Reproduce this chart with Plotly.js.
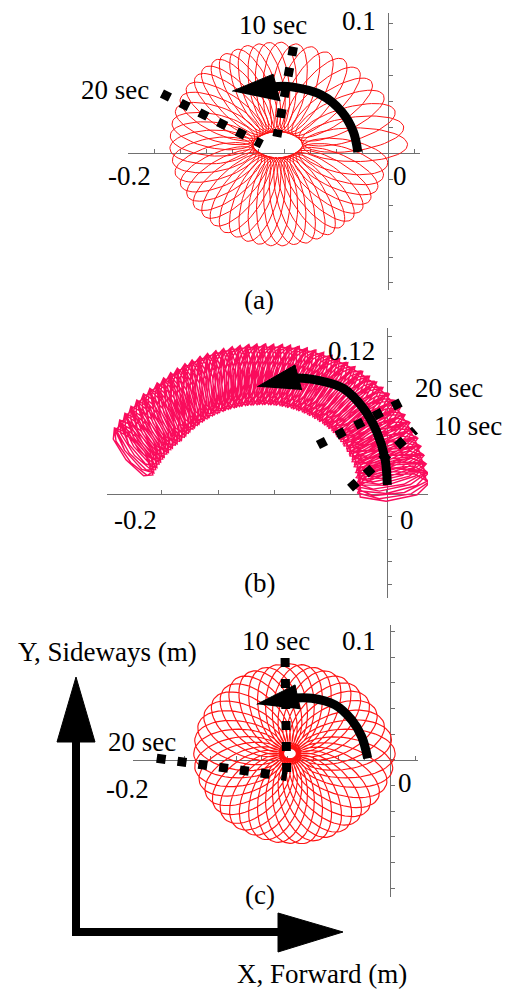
<!DOCTYPE html>
<html><head><meta charset="utf-8">
<script src="https://cdn.plot.ly/plotly-3.0.1.min.js"></script>
<style>html,body{margin:0;padding:0;background:#fff}#chart{width:505px;height:990px}</style>
</head><body><div id="chart"></div>
<script>
// ================= DATA =================
// Panel (a): petal directions (deg, counter-clockwise from +X) and petal reach (m)
const petalAngleA = [0,8,16,25,34,43,52,61,70,79,88,95,101,108,114,121,127,134,140,147,154,161,168,175,182,189,196,203,210,217,224,231,238,245,252,259,266,273,280,287,294,301,308,315,322,329,336,343,350];
const petalReachA = [0.100,0.098,0.094,0.090,0.087,0.085,0.083,0.081,0.080,0.079,0.079,0.079,0.079,0.080,0.080,0.081,0.081,0.082,0.082,0.083,0.083,0.083,0.083,0.083,0.083,0.082,0.082,0.081,0.080,0.080,0.079,0.079,0.079,0.078,0.078,0.078,0.078,0.078,0.078,0.079,0.079,0.080,0.080,0.081,0.082,0.083,0.084,0.085,0.086];
const petalCentreA = [-0.085, 0.0065];
const petalHoleA = [0.019, 0.010];
const petalHalfWidthA = 0.013;

// Panel (b): loop positions along the curved path (deg about arc centre)
const loopAngleB = [7,8.1,9.3,10.2,11.4,12.3,13.5,14.4,15.6,16.5,17.7,18.6,19.8,20.7,21.9,22.8,24,24.9,26.1,27,28.2,29.1,30.3,31.2,32.4,33.3,34.5,35.4,36.6,37.5,38.7,39.6,40.8,41.7,42.9,43.8,45,45.9,47.1,48,49.2,50.1,51.3,52.2,53.4,54.3,55.5,56.4,57.6,58.5,59.7,60.6,61.8,62.7,63.9,64.8,66,66.9,68.1,69,70.2,71.1,72.3,73.2,74.4,75.3,76.5,77.4,78.6,79.5,80.7,81.6,82.8,83.7,84.9,85.8,87,87.9,89.1,90,91.2,92.1,93.3,94.2,95.4,96.3,97.5,98.4,99.6,100.5,101.7,102.6,103.8,104.7,105.9,106.8,108,108.9,110.1,111,112.2,113.1,114.3,115.2,116.4,117.3,118.5,119.4,120.6,121.5,122.7,123.6,124.8,125.7,126.9,127.8,129,129.9,131.1,132,133.2,134.1,135.3,136.2,137.4,138.3,139.5,140.4,141.6,142.5,143.7,144.6,145.8,146.7,147.9,148.8,150,150.9,152.1,153,154.2,155.1,156.3,157.2,158.4,159.2];
const arcCentreB = [-0.11, -0.008];
const arcKnotAngleB = [7, 20, 45, 90, 135, 159];
const arcKnotRadiusB = [0.116, 0.118, 0.118, 0.114, 0.116, 0.124];
const loopHalfLengthB = [0.033, 0.031, 0.030, 0.028, 0.028, 0.027];
const loopHalfWidthB = [0.012, 0.009, 0.007, 0.007, 0.008, 0.008];
const loopTiltB = [0, 0, -5, -15, -25, -30];

// Panel (c)
const petalAngleC = [0,9,18,27,36,45,54,63,72,81,90,99,108,117,126,135,144,153,162,171,180,189,198,207,216,225,234,243,252,261,270,279,288,297,306,315,324,333,342,351];
const petalReachC = [0.082,0.080,0.077,0.075,0.074,0.073,0.072,0.071,0.070,0.070,0.070,0.070,0.070,0.071,0.072,0.072,0.073,0.074,0.075,0.075,0.075,0.075,0.074,0.073,0.072,0.072,0.071,0.070,0.070,0.070,0.070,0.071,0.071,0.072,0.073,0.074,0.075,0.077,0.079,0.081];
const petalCentreC = [-0.078, 0.005];
const petalHoleC = [0.005, 0.004];
const petalHalfWidthC = 0.019;

// Time-marker lines (m)
const markA10x = [-0.0728, -0.0856], markA10y = [0.0818, 0.0125];
const markA20x = [-0.1741, -0.0972], markA20y = [0.0459, 0.0069];
const markB10x = [-0.0328, 0.0249], markB10y = [0.0053, 0.0568];
const markB20x = [-0.0613, 0.0160], markB20y = [0.0435, 0.0834];
const markC10x = [-0.0818, -0.0805], markC10y = [0.0795, -0.0131];
const markC20x = [-0.1818, -0.1312, -0.0805], markC20y = [0.0013, -0.0052, -0.0130];

// Rotation arrows (m)
const arcAx = [-0.0233,-0.0267,-0.0356,-0.0510,-0.0741,-0.0880], arcAy = [0.0008,0.0164,0.0318,0.0446,0.0510,0.0512];
const headAx = [-0.1200,-0.0885,-0.0831], headAy = [0.0477,0.0608,0.0400];
const arcBx = [0.0003,-0.0018,-0.0091,-0.0210,-0.0388,-0.0624,-0.0800], arcBy = [0.0080,0.0317,0.0553,0.0761,0.0938,0.1012,0.1030];
const headBx = [-0.1151,-0.0817,-0.0757], headBy = [0.0953,0.1145,0.0923];
const arcCx = [-0.0174,-0.0221,-0.0299,-0.0429,-0.0610,-0.0740], arcCy = [0.0013,0.0182,0.0312,0.0429,0.0481,0.0483];
const headCx = [-0.1039,-0.0740,-0.0701], headCy = [0.0434,0.0585,0.0395];

// Texts
const textsA = ["10 sec","0.1","20 sec","-0.2","0","(a)"];
const textsB = ["0.12","20 sec","10 sec","-0.2","0","(b)"];
const textsC = ["10 sec","0.1","20 sec","-0.2","0","(c)","Y, Sideways (m)","X, Forward (m)"];

// ================= LAYOUT (pixels) =================
const W = 505, H = 990;
const posA = [[273,25],[358.5,21.5],[114.5,90.5],[129,176],[399.5,176],[259,300]];
const posB = [[351,350.5],[448.5,388.5],[467.5,426.5],[135.5,520],[406.5,520],[259,583]];
const posC = [[276,641],[358.5,641],[141.5,741.5],[127.5,788.5],[404.5,782.5],[260,895],[107.5,651.5],[321.5,973.5]];

const boxes = [
  {l:128.3, r:420, t:13.3, b:290, xr:[-0.2,0.0246], yr:[-0.1054,0.1077], xd:0.02, yd:0.02},
  {l:106.7, r:428, t:328, b:598, xr:[-0.2488,0.0364], yr:[-0.0923,0.1474], xd:0.05, yd:0.02},
  {l:133, r:418, t:625, b:897, xr:[-0.2003,0.0218], yr:[-0.1068,0.1052], xd:0.02, yd:0.02}
];

// ================= BUILD =================
function petals(c, ang, reach, hole, hw, n){
  const xs=[], ys=[];
  for (let k=0;k<ang.length;k++){
    const p=ang[k]*Math.PI/180, cp=Math.cos(p), sp=Math.sin(p);
    const rin = hole[0]*hole[1]/Math.hypot(hole[1]*cp, hole[0]*sp);
    const m=(rin+reach[k])/2, a=(reach[k]-rin)/2;
    for (let j=0;j<=n;j++){
      const t=Math.PI+2*Math.PI*j/n;
      const u=m+a*Math.cos(t), v=hw*Math.sin(t);
      xs.push(c[0]+u*cp-v*sp); ys.push(c[1]+u*sp+v*cp);
    }
  }
  return [xs,ys];
}
function knot(kx,ky,x){
  if (x<=kx[0]) return ky[0];
  for (let i=1;i<kx.length;i++) if (x<=kx[i]) return ky[i-1]+(ky[i]-ky[i-1])*(x-kx[i-1])/(kx[i]-kx[i-1]);
  return ky[ky.length-1];
}
function band(n){
  const xs=[], ys=[];
  for (let k=0;k<loopAngleB.length;k++){
    const d=loopAngleB[k], p=d*Math.PI/180;
    const R=knot(arcKnotAngleB,arcKnotRadiusB,d), L=knot(arcKnotAngleB,loopHalfLengthB,d), Wd=knot(arcKnotAngleB,loopHalfWidthB,d);
    const q=p+knot(arcKnotAngleB,loopTiltB,d)*Math.PI/180, cq=Math.cos(q), sq=Math.sin(q);
    const cx=arcCentreB[0]+R*Math.cos(p), cy=arcCentreB[1]+R*Math.sin(p);
    const ph=(k%3)*0.7;
    for (let j=0;j<=n;j++){
      const t=ph+2*Math.PI*j/n;
      const u=L*Math.cos(t), v=Wd*Math.sin(t);
      xs.push(cx+u*cq-v*sq); ys.push(cy+u*sq+v*cq);
    }
  }
  return [xs,ys];
}

const traces=[];
const axs=['',2,3];
const pa=petals(petalCentreA,petalAngleA,petalReachA,petalHoleA,petalHalfWidthA,60);
traces.push({x:pa[0],y:pa[1],xaxis:'x',yaxis:'y',mode:'lines',line:{color:'rgb(255,20,20)',width:1},hoverinfo:'skip'});
const pb=band(7);
traces.push({x:pb[0],y:pb[1],xaxis:'x2',yaxis:'y2',mode:'lines',line:{color:'rgb(250,12,92)',width:1.4},hoverinfo:'skip'});
const pc=petals(petalCentreC,petalAngleC,petalReachC,petalHoleC,petalHalfWidthC,60);
traces.push({x:pc[0],y:pc[1],xaxis:'x3',yaxis:'y3',mode:'lines',line:{color:'rgb(255,20,20)',width:1.15},hoverinfo:'skip'});

const marks=[[markA10x,markA10y,0],[markA20x,markA20y,0],[markB10x,markB10y,1],[markB20x,markB20y,1],[markC10x,markC10y,2],[markC20x,markC20y,2]];
marks.forEach(m=>traces.push({x:m[0],y:m[1],xaxis:'x'+axs[m[2]],yaxis:'y'+axs[m[2]],mode:'lines',line:{color:'#000',width:9,dash:'9px,12px'},hoverinfo:'skip'}));
const arcs=[[arcAx,arcAy,headAx,headAy,0],[arcBx,arcBy,headBx,headBy,1],[arcCx,arcCy,headCx,headCy,2]];
arcs.forEach(a=>{
  traces.push({x:a[0],y:a[1],xaxis:'x'+axs[a[4]],yaxis:'y'+axs[a[4]],mode:'lines',line:{color:'#000',width:9,shape:'spline'},hoverinfo:'skip'});
  traces.push({x:a[2],y:a[3],xaxis:'x'+axs[a[4]],yaxis:'y'+axs[a[4]],mode:'lines',fill:'toself',fillcolor:'#000',line:{color:'#000',width:1},hoverinfo:'skip'});
});

const layout={width:W,height:H,margin:{l:0,r:0,t:0,b:0},showlegend:false,paper_bgcolor:'#fff',plot_bgcolor:'rgba(0,0,0,0)',annotations:[],shapes:[]};
boxes.forEach((b,i)=>{
  const xdom=[b.l/W,b.r/W], ydom=[1-b.b/H,1-b.t/H];
  const xpos=ydom[0]+(0-b.yr[0])/(b.yr[1]-b.yr[0])*(ydom[1]-ydom[0]);
  const ypos=xdom[0]+(0-b.xr[0])/(b.xr[1]-b.xr[0])*(xdom[1]-xdom[0]);
  const common={showline:true,linecolor:'#707070',linewidth:1.3,ticks:'inside',ticklen:4,tickwidth:1,tickcolor:'#707070',tick0:0,showticklabels:false,showgrid:false,zeroline:false,layer:'below traces',fixedrange:true,anchor:'free'};
  layout['xaxis'+axs[i]]=Object.assign({},common,{domain:xdom,range:b.xr,position:xpos,dtick:b.xd});
  layout['yaxis'+axs[i]]=Object.assign({},common,{domain:ydom,range:b.yr,position:ypos,dtick:b.yd});
});
const font={family:'Liberation Serif, Tinos, DejaVu Serif, serif',size:27,color:'#000'};
layout.font={family:font.family};
[[textsA,posA],[textsB,posB],[textsC,posC]].forEach(([t,p])=>t.forEach((s,i)=>layout.annotations.push({text:s,x:p[i][0]/W,y:1-p[i][1]/H,xref:'paper',yref:'paper',xanchor:'center',yanchor:'middle',showarrow:false,font:font})));
// big axis arrows (pixels)
function P(pts){return 'M'+pts.map(q=>(q[0]/W)+','+(1-q[1]/H)).join(' L')+' Z';}
layout.shapes.push({type:'line',xref:'paper',yref:'paper',x0:76/W,y0:1-936/H,x1:76/W,y1:1-740/H,line:{color:'#000',width:8}});
layout.shapes.push({type:'line',xref:'paper',yref:'paper',x0:72/W,y0:1-932/H,x1:280/W,y1:1-932/H,line:{color:'#000',width:8}});
layout.shapes.push({type:'path',xref:'paper',yref:'paper',path:P([[57,742],[95,742],[76,677]]),fillcolor:'#000',line:{color:'#000',width:1}});
layout.shapes.push({type:'path',xref:'paper',yref:'paper',path:P([[278,913],[278,952],[343,932]]),fillcolor:'#000',line:{color:'#000',width:1}});

Plotly.newPlot('chart',traces,layout,{staticPlot:true,displayModeBar:false}).then(gd=>{
  // make sure annotation text uses the serif face
  gd.querySelectorAll('.annotation-text').forEach(e=>{e.style.fontFamily='"Liberation Serif", Tinos, "DejaVu Serif", serif';});
});
</script></body></html>
